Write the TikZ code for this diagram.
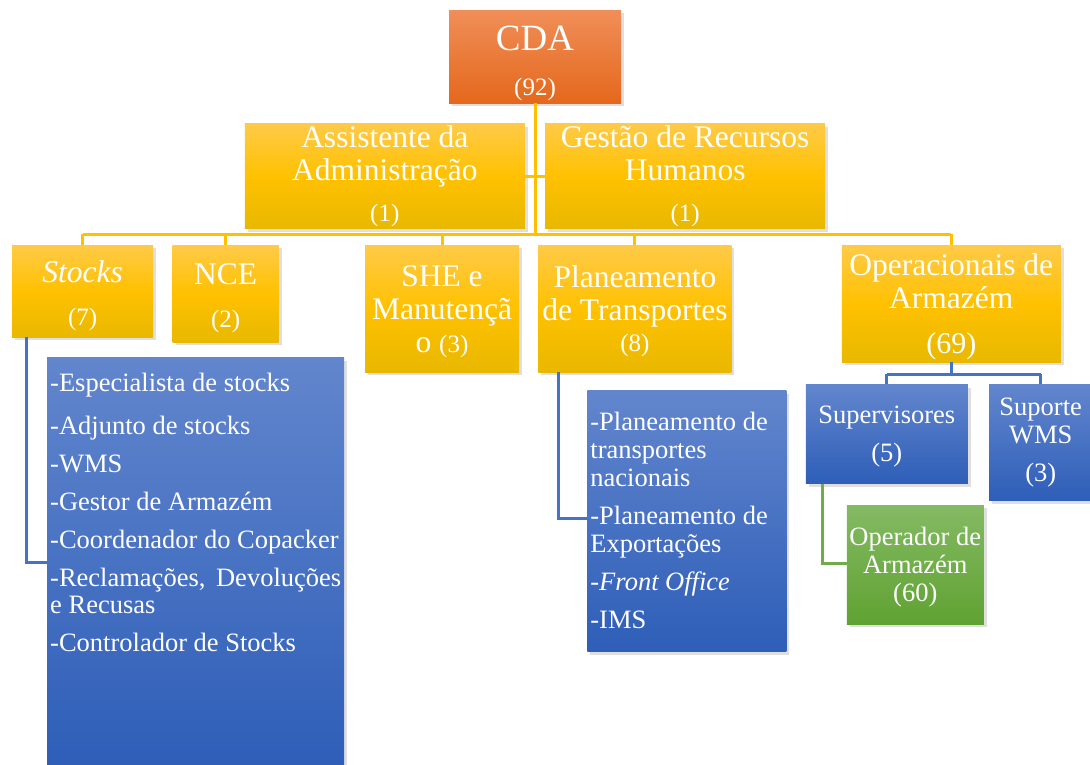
\documentclass[tikz,border=0pt]{standalone}
\usepackage{fontspec}
\setmainfont{Liberation Serif}
\usepackage{xcolor}
\usepackage{tikz}
\usetikzlibrary{shadows, positioning}
\definecolor{cdaorangetop}{RGB}{240,142,88}
\definecolor{cdaorangebot}{RGB}{228,104,28}
\definecolor{goldtop}{RGB}{255,202,72}
\definecolor{goldmid}{RGB}{255,193,0}
\definecolor{goldbot}{RGB}{232,184,0}
\definecolor{bluetop}{RGB}{98,134,205}
\definecolor{bluebot}{RGB}{46,94,184}
\definecolor{greentop}{RGB}{132,186,100}
\definecolor{greenbot}{RGB}{96,162,50}
\definecolor{goldline}{RGB}{255,192,0}
\definecolor{blueline}{RGB}{68,114,196}
\definecolor{greenline}{RGB}{112,173,71}

\begin{document}
\begin{tikzpicture}[
    x=1pt, y=1pt,
    orgbox/.style={rectangle, text=white, align=center, inner sep=2pt, drop shadow={shadow xshift=3pt, shadow yshift=-3pt, opacity=0.25}},
    topbox/.style={orgbox, top color=cdaorangetop, bottom color=cdaorangebot, font=\fontsize{37}{40}\selectfont},
    unitbox/.style={orgbox, top color=goldtop, bottom color=goldbot, middle color=goldmid, font=\fontsize{31.5}{33}\selectfont},
    subbox/.style={orgbox, top color=bluetop, bottom color=bluebot, font=\fontsize{26.5}{28}\selectfont},
    opbox/.style={orgbox, top color=greentop, bottom color=greenbot, font=\fontsize{26.5}{28}\selectfont},
    listbox/.style={orgbox, top color=bluetop, bottom color=bluebot, align=left, inner xsep=3pt, inner ysep=0pt, font=\fontsize{26.5}{27}\selectfont},
    goldlink/.style={line width=3pt, draw=goldline},
    bluelink/.style={line width=3pt, draw=blueline},
    greenlink/.style={line width=3pt, draw=greenline}
]
    \useasboundingbox (0,0) rectangle (1090,-764);

    % Nodes
    \node (cda) [topbox, minimum width=172pt, minimum height=93pt, anchor=north] at (535,-10) {\rule{0pt}{38pt}CDA\\[5pt]{\fontsize{25}{28}\selectfont (92)}};
    \node (assist) [unitbox, minimum width=280pt, minimum height=102pt, anchor=north east] at ([xshift=-10pt, yshift=-20pt]cda.south) {Assistente da\\Administração\\[8pt]{\fontsize{25}{28}\selectfont (1)}};
    \node (gestao) [unitbox, minimum width=280pt, minimum height=102pt, anchor=north west] at ([xshift=20pt]assist.north east) {Gestão de Recursos\\Humanos\\[8pt]{\fontsize{25}{28}\selectfont (1)}};

    \node (stocks) [unitbox, minimum width=141pt, minimum height=92pt, anchor=north west] at (12,-245) {\rule{0pt}{30pt}\textit{Stocks}\\[10pt]{\fontsize{25}{28}\selectfont (7)}};
    \node (nce) [unitbox, minimum width=106pt, minimum height=97pt, anchor=north west] at ([xshift=19pt]stocks.north east) {\rule{0pt}{30pt}NCE\\[10pt]{\fontsize{25}{28}\selectfont (2)}};
    \node (she) [unitbox, minimum width=154pt, minimum height=127pt, anchor=north west] at ([xshift=86pt]nce.north east) {\rule{0pt}{26pt}SHE e\\Manutençã\\o {\fontsize{25}{28}\selectfont (3)}};
    \node (plan) [unitbox, minimum width=193pt, minimum height=127pt, anchor=north west] at ([xshift=19pt]she.north east) {\rule{0pt}{27pt}Planeamento\\de Transportes\\[-2pt]{\fontsize{25}{28}\selectfont (8)}};
    \node (ops) [unitbox, minimum width=219pt, minimum height=117pt, anchor=north west] at ([xshift=110pt]plan.north east) {\rule{0pt}{27pt}Operacionais de\\Armazém\\[12pt]{\fontsize{30}{33}\selectfont (69)}};

    \node (stocklist) [listbox, anchor=north west] at ([xshift=35pt, yshift=-20pt]stocks.south west) {\parbox[t][407pt][t]{291pt}{\raggedright\vspace*{16pt}%
        -Especialista de stocks\\[16pt]
        -Adjunto de stocks\\[11pt]
        -WMS\\[11pt]
        -Gestor de Armazém\\[11pt]
        -Coordenador do Copacker\\[11pt]
        -Reclamações,\hfill Devoluções\\
        e Recusas\\[11pt]
        -Controlador de Stocks}};
    \node (planlist) [listbox, anchor=north west, font=\fontsize{26.5}{28}\selectfont] at ([xshift=49pt, yshift=-18pt]plan.south west) {\parbox[t][261pt][t]{193pt}{\raggedright\vspace*{22pt}%
        -Planeamento de\\
        transportes\\
        nacionais\\[10pt]
        -Planeamento de\\
        Exportações\\[10pt]
        \textit{-Front Office}\\[10pt]
        -IMS}};

    \node (sup) [subbox, minimum width=162pt, minimum height=99pt, anchor=north west] at ([xshift=-36pt, yshift=-22pt]ops.south west) {\rule{0pt}{23pt}Supervisores\\[10pt](5)};
    \node (wms) [subbox, minimum width=103pt, minimum height=116pt, anchor=north west] at ([xshift=21pt]sup.north east) {Suporte\\WMS\\[10pt](3)};
    \node (oper) [opbox, minimum width=137pt, minimum height=119pt, anchor=north west] at ([xshift=41pt, yshift=-21pt]sup.south west) {\rule{0pt}{23pt}Operador de\\Armazém\\(60)};

    % Lines
    \coordinate (bus) at (535,-234);
    \coordinate (opsbus) at (950,-374);
    \draw [goldlink] (cda.south) -- (cda.south |- bus);
    \draw [goldlink] (assist.east) -- (assist.east -| cda.south);
    \draw [goldlink] (gestao.west) -- (gestao.west -| cda.south);
    \draw [goldlink] (stocks.north |- bus) -- (ops.north |- bus);
    \draw [goldlink] (stocks.north |- bus) -- (stocks.north);
    \draw [goldlink] (nce.north |- bus) -- (nce.north);
    \draw [goldlink] (she.north |- bus) -- (she.north);
    \draw [goldlink] (plan.north |- bus) -- (plan.north);
    \draw [goldlink] (ops.north |- bus) -- (ops.north);
    \draw [bluelink] ([xshift=14pt]stocks.south west) |- ([yshift=-205pt]stocklist.north west);
    \draw [bluelink] ([xshift=20pt]plan.south west) |- ([yshift=-128pt]planlist.north west);
    \draw [bluelink] (ops.south) -- (ops.south |- opsbus);
    \draw [bluelink] (sup.north |- opsbus) -- (wms.north |- opsbus);
    \draw [bluelink] (sup.north |- opsbus) -- (sup.north);
    \draw [bluelink] (wms.north |- opsbus) -- (wms.north);
    \draw [greenlink] ([xshift=17pt]sup.south west) |- ([yshift=-59pt]oper.north west);
\end{tikzpicture}
\end{document}
